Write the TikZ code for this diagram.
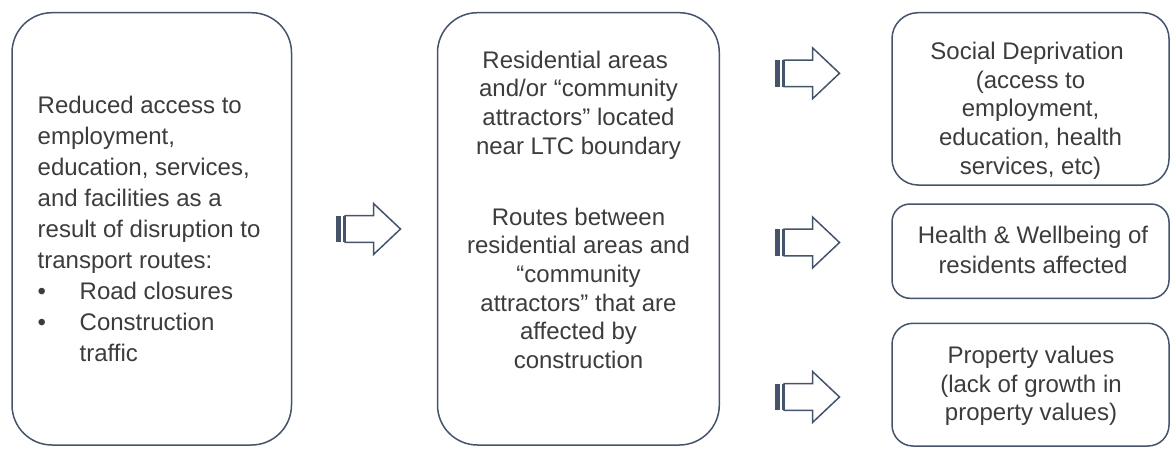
\documentclass[tikz,border=0pt]{standalone}
\usepackage{fontspec}
\setmainfont{Liberation Sans}
\definecolor{edge}{RGB}{68,84,106}
\definecolor{ink}{RGB}{60,60,60}
\newcommand{\ts}{\hspace*{6.7pt}}
\newcommand{\bul}{\makebox[42pt][l]{\textbullet}}
\begin{document}
\begin{tikzpicture}[x=1pt,y=-1pt,
  box/.style={draw=edge, line width=1.5pt, fill=white, inner sep=0pt},
  txt/.style={text=ink, inner sep=0pt, font=\fontsize{24}{28.7}\selectfont},
  blockarrow/.pic={
    \fill[edge] (0,-13.3) rectangle (5.5,13.3);
    \fill[edge] (7.2,-13.3) rectangle (9.5,13.3);
    \draw[edge, line width=1.5pt, fill=white, line join=miter]
      (9.5,-13.3) -- (38,-13.3) -- (38,-25.5) -- (65,0) -- (38,25.5)
      -- (38,13.3) -- (9.5,13.3) -- cycle;
  }]
\useasboundingbox (0,0) rectangle (1170,458);

% boxes
\node[box, minimum width=279.5pt, minimum height=432.3pt, rounded corners=40pt] (b1) at (151.75,228.85) {};
\node[box, minimum width=281.8pt, minimum height=432.3pt, rounded corners=40pt] (b2) at (578.4,228.85) {};
\node[box, minimum width=277pt, minimum height=172.3pt, rounded corners=26pt] (b3) at (1030.5,98.85) {};
\node[box, minimum width=277pt, minimum height=94.3pt, rounded corners=18pt] (b4) at (1030.5,251.15) {};
\node[box, minimum width=277pt, minimum height=122.7pt, rounded corners=21pt] (b5) at (1030.5,384.65) {};

% texts
\node[txt, anchor=north west, align=left, font=\fontsize{24}{31.1}\selectfont] (t1) at (37.5,95.5)
  {Reduced access to\\employment,\\education, services,\\and facilities as a\\result of disruption to\\transport routes:\\\bul Road closures\\\bul Construction\\\hspace*{42pt}traffic};
\node[txt, anchor=north, align=center] (t2) at (578.5,50.5)
  {Residential areas\ts\\and/or “community\ts\\attractors” located\ts\\near LTC boundary\\[42.3pt]Routes between\\residential areas and\\“community\\attractors” that are\\affected by\\construction};
\node[txt, anchor=north, align=center] (t3) at (1030.5,42)
  {Social Deprivation\ts\\(access to\ts\\employment,\\education, health\\services, etc)};
\node[txt, anchor=north, align=center, font=\fontsize{24}{30}\selectfont] (t4) at (1033,225.7)
  {Health \& Wellbeing of\\residents affected};
\node[txt, anchor=north, align=center] (t5) at (1031,345.8)
  {Property values\\(lack of growth in\\property values)};

% block arrows
\pic at (335.5,229) {blockarrow};
\pic at (774.5,73.3) {blockarrow};
\pic at (774.5,242.5) {blockarrow};
\pic at (774.5,397) {blockarrow};
\end{tikzpicture}
\end{document}
